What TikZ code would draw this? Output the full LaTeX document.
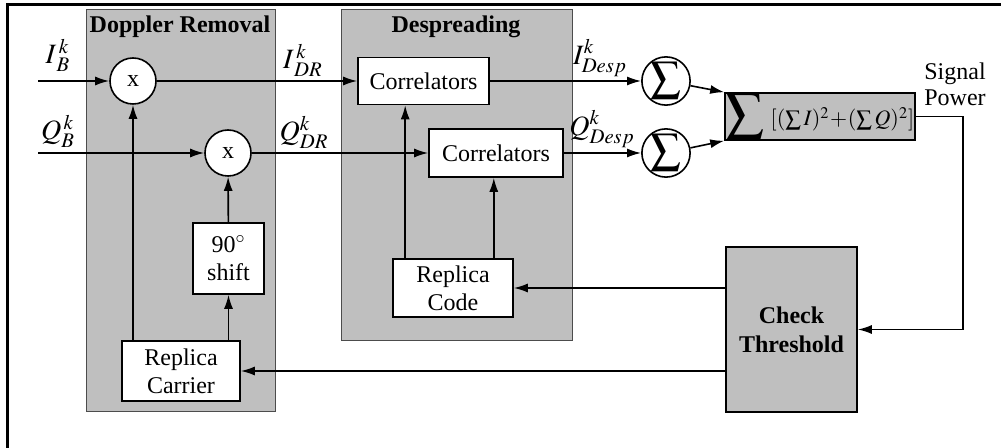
\documentclass[tikz,border=0pt]{standalone}
\usepackage{mathptmx}
\usepackage{fontspec}
\setmainfont{Liberation Serif}
\usetikzlibrary{arrows.meta}
\tikzset{
  stage/.style={draw=black!70,fill=black!25,line width=0.5pt},
  blk/.style={draw,fill=white,align=center,inner sep=1pt,font=\fontsize{12}{14}\selectfont},
  mix/.style={draw,fill=white,circle,minimum size=23pt,inner sep=0pt,font=\fontsize{12}{14}\selectfont},
  sig/.style={font=\fontsize{14}{16}\selectfont},
  ttl/.style={font=\bfseries\fontsize{12}{14}\selectfont},
  >={Latex[length=7pt,width=4.5pt]}
}
\begin{document}
\begin{tikzpicture}[x=0.5pt,y=-0.5pt,line width=0.8pt]
  \useasboundingbox (0,0) rectangle (1001,448);
  \draw[line width=1.5pt] (1001,5) -- (7,5) -- (7,448);
  % stages
  \draw[stage] (86,10) rectangle (275,412);
  \draw[stage] (341,10) rectangle (572,341);
  \node[ttl] (ttlDR) at (180,27) {Doppler Removal};
  \node[ttl] (ttlDS) at (456,27) {Despreading};
  % blocks
  \node[mix] (mulI) at (133,81) {x};
  \node[mix] (mulQ) at (228,153) {x};
  \node[blk,minimum width=65.5pt,minimum height=23.5pt] (corI) at (423.5,81) {Correlators};
  \node[blk,minimum width=67pt,minimum height=24pt] (corQ) at (496,153) {Correlators};
  \node[blk,minimum width=35.5pt,minimum height=35.5pt] (shift) at (228.5,258.5) {90$^\circ$\\shift};
  \node[blk,minimum width=59pt,minimum height=30pt] (carrier) at (181,371) {Replica\\Carrier};
  \node[blk,minimum width=60pt,minimum height=29pt] (code) at (453,288) {Replica\\Code};
  \node[mix] (sumI) at (666,81) {\fontsize{15}{15}\selectfont$\displaystyle\sum$};
  \node[mix] (sumQ) at (666,153) {\fontsize{15}{15}\selectfont$\displaystyle\sum$};
  \node[blk,fill=black!25,inner sep=0pt,minimum width=95pt,minimum height=23.5pt] (pow) at (820,116.5)
    {{\fontsize{19}{19}\selectfont$\displaystyle\sum$}\hspace{3pt}{\fontsize{11}{11}\selectfont$[(\sum I)^2\!+\!(\sum Q)^2]$}};
  \node[blk,fill=black!25,font=\bfseries\fontsize{12}{14.5}\selectfont,minimum width=65.5pt,minimum height=82.5pt] (chk) at (791.5,329.5) {Check\\Threshold};
  \node[align=center,font=\fontsize{12}{13}\selectfont] (sp) at (955,84) {Signal\\Power};
  % signal labels
  \node[sig] (lIB) at (58,55) {$I_{\,B}^{\,k}$};
  \node[sig] (lQB) at (58,131) {$Q_B^{\,k}$};
  \node[sig] (lIDR) at (303,60) {$I_{\,DR}^{\,k}$};
  \node[sig] (lQDR) at (304,132) {$Q_{DR}^k$};
  \node[sig] (lID) at (600,58) {$I_{Desp}^k$};
  \node[sig] (lQD) at (602,129) {$Q_{Desp}^k$};
  % connectors
  \coordinate (inI) at (38,81);
  \coordinate (inQ) at (38,153);
  \coordinate (fb) at (963,329.5);
  \draw[->] (inI) -- (mulI);
  \draw[->] (inQ) -- (mulQ);
  \draw[->] (mulI) -- (corI);
  \draw[->] (mulQ) -- (corQ);
  \draw[->] (corI) -- (sumI);
  \draw[->] (corQ) -- (sumQ);
  \draw[->] (sumI) -- (pow.north west);
  \draw[->] (sumQ) -- (pow.south west);
  \draw[->] (pow.east) -| (fb) -- (chk.east);
  \draw[->] (chk.west |- code) -- (code.east);
  \draw[->] (chk.west |- carrier) -- (carrier.east);
  \draw[->] (carrier.north -| mulI) -- (mulI.south);
  \draw[->] (carrier.north -| shift) -- (shift.south);
  \draw[->] (shift) -- (mulQ);
  \draw[->] ([xshift=6.5pt]code.north west) -- ([xshift=6.5pt]code.north west |- corI.south);
  \draw[->] ([xshift=-10pt]code.north east) -- ([xshift=-10pt]code.north east |- corQ.south);
\end{tikzpicture}
\end{document}
